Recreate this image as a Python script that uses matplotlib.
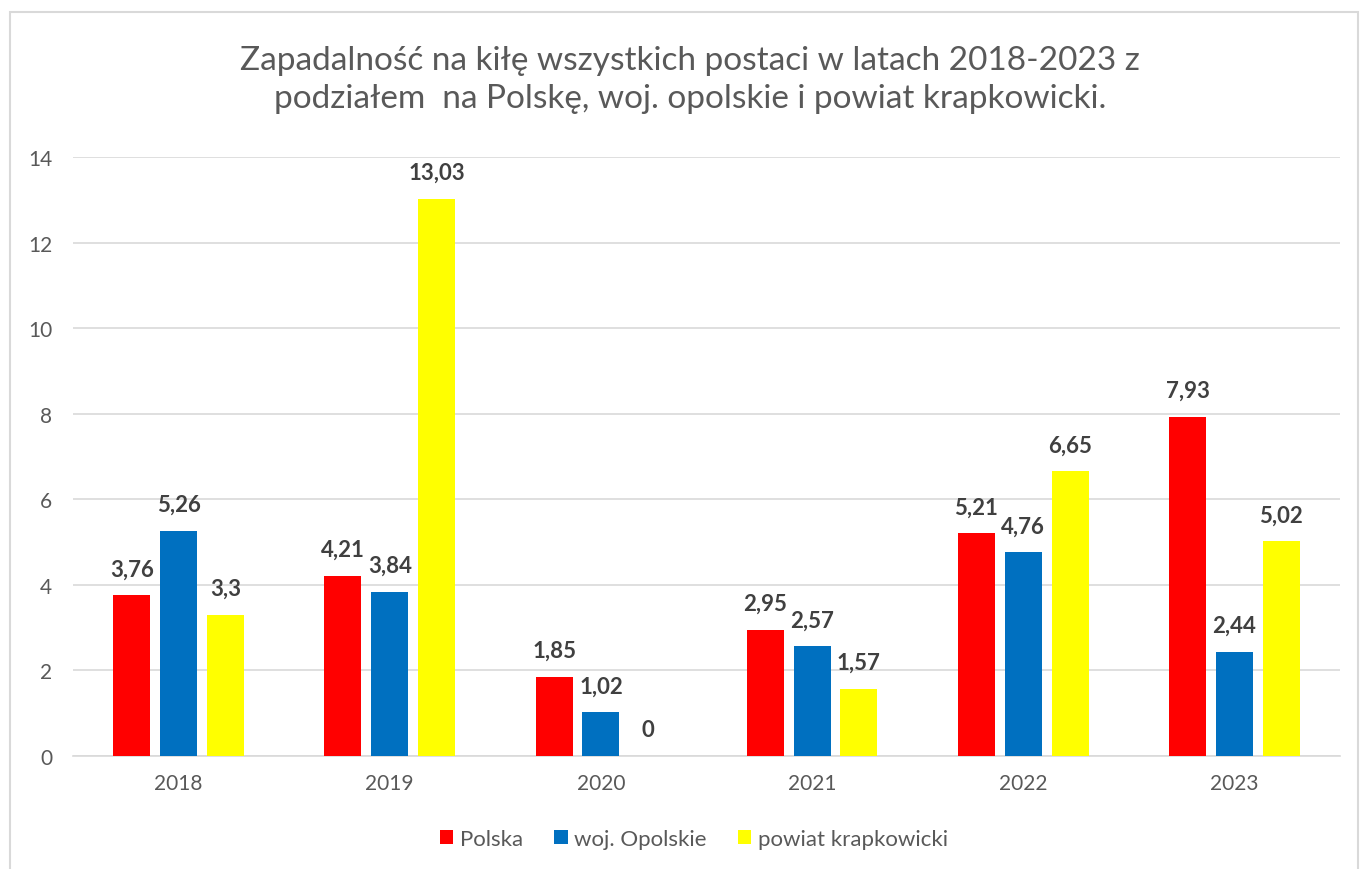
import numpy as np
import matplotlib.pyplot as plt
from matplotlib.patches import Rectangle

years = ['2018', '2019', '2020', '2021', '2022', '2023']
polska = [3.76, 4.21, 1.85, 2.95, 5.21, 7.93]
opolskie = [5.26, 3.84, 1.02, 2.57, 4.76, 2.44]
krapkowicki = [3.3, 13.03, 0, 1.57, 6.65, 5.02]
series_names = ['Polska', 'woj. Opolskie', 'powiat krapkowicki']
colors = ['#ff0000', '#0070c0', '#ffff00']

plt.rcParams['font.family'] = ['Lato', 'DejaVu Sans']

fig = plt.figure(figsize=(13.62, 8.7), dpi=100)
# chart frame
fig.patches.append(Rectangle((10/1362, -0.01), 1348/1362, 1 - 13/870 + 0.01,
                             transform=fig.transFigure, fill=False,
                             edgecolor='#d9d9d9', linewidth=1.5))
ax = fig.add_axes([73/1362, 1 - 757/870, 1267/1362, (757-158)/870])

x = np.arange(len(years))
w = 0.175
step = 0.222
for i, (vals, name, c) in enumerate(zip([polska, opolskie, krapkowicki], series_names, colors)):
    pos = x + (i - 1) * step
    ax.bar(pos, vals, width=w, color=c, label=name, zorder=3)
    for p, v in zip(pos, vals):
        lab = ('%g' % v).replace('.', ',')
        ax.text(p, v + 0.37, lab, ha='center', va='bottom', fontsize=16,
                fontweight='bold', color='#404040')

ax.set_xlim(-0.5, 5.5)
ax.set_ylim(0, 14)
ax.set_yticks(range(0, 15, 2))
ax.set_xticks(x)
ax.set_xticklabels(years)
ax.yaxis.grid(True, color='#d9d9d9', linewidth=1.2, zorder=0)
for s in ['top', 'right', 'left']:
    ax.spines[s].set_visible(False)
ax.spines['bottom'].set_color('#d9d9d9')
ax.spines['bottom'].set_linewidth(1.2)
ax.tick_params(axis='both', length=0, labelsize=15, labelcolor='#595959', pad=12)
ax.tick_params(axis='y', pad=15)

fig.text(690/1362, 1 - 80/870, 'Zapadalność na kiłę wszystkich postaci w latach 2018-2023 z\n'
         'podziałem  na Polskę, woj. opolskie i powiat krapkowicki.',
         ha='center', va='center', fontsize=24, color='#595959', linespacing=1.3)

fig.legend(loc='center', bbox_to_anchor=(694/1362, 1 - 840/870), ncol=3, frameon=False,
           fontsize=16, labelcolor='#595959', handlelength=0.6, handleheight=0.6,
           handletextpad=0.3, columnspacing=1.4)

fig.savefig('out.png', dpi=100)
